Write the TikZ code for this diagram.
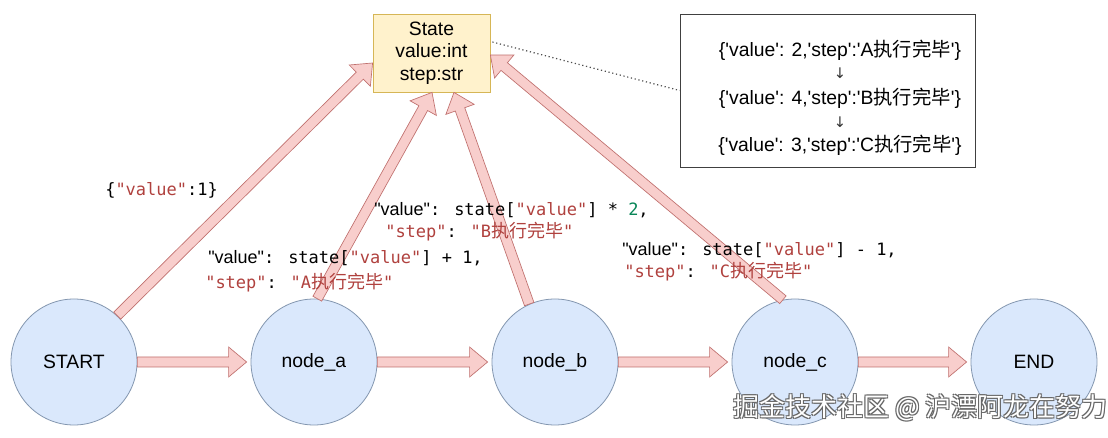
\documentclass[tikz,border=0pt]{standalone}
\usepackage{fontspec}
\setmainfont{Liberation Sans}
\newfontfamily\plainsans{Liberation Sans}
\newfontfamily\cjk{Noto Sans CJK SC}
\newfontfamily\mono{DejaVu Sans Mono}
\newfontfamily\dejavu{DejaVu Sans}
\usetikzlibrary{calc}
\definecolor{circfill}{HTML}{DAE8FC}
\definecolor{circdraw}{HTML}{8497B0}
\definecolor{arrfill}{HTML}{F8CECC}
\definecolor{arrdraw}{HTML}{C0706E}
\definecolor{statefill}{HTML}{FFF2CC}
\definecolor{statedraw}{HTML}{D6B656}
\definecolor{codered}{HTML}{B0413E}
\definecolor{codenum}{HTML}{098658}
\newcommand{\codestr}[1]{{\color{codered}#1}}
\newcommand{\zh}[1]{{\cjk\fontsize{13.5}{15}\selectfont #1}}
\newcommand{\keyv}{\makebox[60pt][l]{{\plainsans\fontsize{13.5}{15}\selectfont"value"}: }}
\newcommand{\blockarrow}[2]{%
  \coordinate (hb) at ($(#2)!13.5pt!(#1)$);
  \draw[flowarrow] ($(#1)!3.75pt!90:(#2)$) -- ($(hb)!3.75pt!90:(#2)$) -- ($(hb)!11.25pt!90:(#2)$) -- (#2) -- ($(hb)!11.25pt!-90:(#2)$) -- ($(hb)!3.75pt!-90:(#2)$) -- ($(#1)!3.75pt!-90:(#2)$) -- cycle;}
\begin{document}
\begin{tikzpicture}[x=0.75pt,y=-0.75pt,
  circ/.style={circle, fill=circfill, draw=circdraw, line width=0.6pt, minimum size=94.5pt, inner sep=0pt, font=\fontsize{14.5}{17}\selectfont},
  statebox/.style={rectangle, fill=statefill, draw=statedraw, line width=0.6pt, minimum width=87.75pt, minimum height=58.5pt, inner sep=0pt, align=center, font=\fontsize{14.5}{17}\selectfont},
  logbox/.style={rectangle, draw=black!75, line width=0.6pt, minimum width=221.25pt, minimum height=114.75pt, inner sep=0pt},
  logline/.style={inner sep=0pt, font=\plainsans\fontsize{14.5}{17}\selectfont},
  logarrow/.style={inner sep=0pt, text=black!80, font=\dejavu\fontsize{11}{12}\selectfont},
  flowarrow/.style={fill=arrfill, draw=arrdraw, line width=0.5pt, line join=miter},
  code/.style={anchor=west, inner sep=0pt, font=\mono\fontsize{12.75}{15}\selectfont},
  dotconn/.style={dotted, line width=0.9pt, draw=black!70},
  wmark/.style={anchor=west, inner sep=0pt, font=\cjk\fontsize{19.5}{22}\selectfont},
  ]
\fill[white] (0,0) rectangle (1108,438);
\useasboundingbox (0,0) rectangle (1108,438);

% main nodes
\node[circ] (start) at (74,362) {START};
\node[circ] (a) at (314,362) {node\_a};
\node[circ] (b) at (555,362) {node\_b};
\node[circ] (c) at (795,362) {node\_c};
\node[circ] (finish) at (1034,362) {END};
\node[statebox] (state) at (431.5,53) {State\\value:int\\step:str};
\node[logbox] (log) at (827.5,90.5) {};

% arrow tips
\coordinate (t1) at ($(a.west)+(-4,0)$);
\coordinate (t2) at ($(b.west)+(-4,0)$);
\coordinate (t3) at ($(c.west)+(-4,0)$);
\coordinate (t4) at ($(finish.west)+(-4,0)$);
\coordinate (ts) at ($(state.west)+(0,10)$);
\coordinate (ta) at ($(state.south)+(0.5,0)$);
\coordinate (tb) at ($(state.south)+(22.5,0)$);
\coordinate (tc) at ($(state.east)+(0,2)$);

% flow arrows
\blockarrow{start.east}{t1}
\blockarrow{a.east}{t2}
\blockarrow{b.east}{t3}
\blockarrow{c.east}{t4}
\blockarrow{start.47}{ts}
\blockarrow{a.87}{ta}
\blockarrow{b.114}{tb}
\blockarrow{c.101}{tc}

% dotted link
\draw[dotconn] ([shift={(2,-11)}]state.east) -- (log.west);

% log box contents
\node[logline] (l1) at (840,50) {\{'value': 2,'step':'A{\cjk 执行完毕}'\}};
\node[logarrow] (d1) at (840,73) {↓};
\node[logline] (l2) at (840,98) {\{'value': 4,'step':'B{\cjk 执行完毕}'\}};
\node[logarrow] (d2) at (840,122) {↓};
\node[logline] (l3) at (840,145) {\{'value': 3,'step':'C{\cjk 执行完毕}'\}};

% code labels
\node[code] (v0) at (105,190) {\{\codestr{"value"}:1\}};
\node[code] (a1) at (208,258) {\keyv state[\codestr{"value"}] + 1,};
\node[code] (a2) at (205,283) {\codestr{"step"}: \codestr{"A\zh{执行完毕}"}};
\node[code] (b1) at (374,210) {\keyv state[\codestr{"value"}] * {\color{codenum}2},};
\node[code] (b2) at (385,232) {\codestr{"step"}: \codestr{"B\zh{执行完毕}"}};
\node[code] (c1) at (622,250) {\keyv state[\codestr{"value"}] - 1,};
\node[code] (c2) at (624,272) {\codestr{"step"}: \codestr{"C\zh{执行完毕}"}};

% watermark
\node[wmark, text=black!60] (wm1) at (734,409) {掘金技术社区 @ 沪漂阿龙在努力};
\node[wmark, text=black!60] (wm2) at (732,407) {掘金技术社区 @ 沪漂阿龙在努力};
\node[wmark, text=black!60] (wm3) at (734,407) {掘金技术社区 @ 沪漂阿龙在努力};
\node[wmark, text=black!60] (wm4) at (732,409) {掘金技术社区 @ 沪漂阿龙在努力};
\node[wmark, text=white] (wm) at (733,408) {掘金技术社区 @ 沪漂阿龙在努力};
\end{tikzpicture}
\end{document}
